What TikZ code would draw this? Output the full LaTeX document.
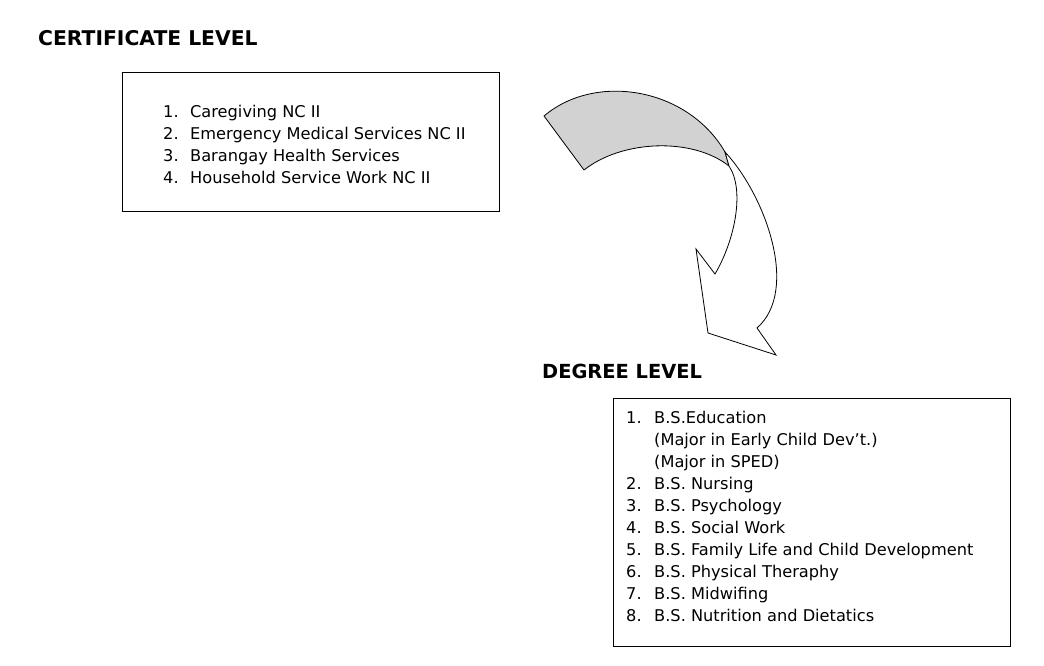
\documentclass[tikz,border=0pt]{standalone}
\usepackage{fontspec}
\setmainfont{DejaVu Sans}
\definecolor{bandgray}{RGB}{210,210,210}
\begin{document}
\begin{tikzpicture}[x=1pt,y=-1pt,
  heading/.style={font=\fontsize{20.3}{24}\selectfont\bfseries, anchor=base west, inner sep=0},
  item/.style={font=\fontsize{16.2}{20}\selectfont, anchor=base west, inner sep=0},
  listbox/.style={draw, line width=0.9pt, inner sep=0, anchor=north west},
  band/.style={draw, line width=0.8pt, fill=bandgray, line join=round},
  arrowbody/.style={draw, line width=0.8pt, fill=white, line join=miter}]
\useasboundingbox (0,0) rectangle (1044,665);

% headings
\node[heading] (certhead) at (38,45) {CERTIFICATE LEVEL};
\node[heading, font=\fontsize{19.4}{24}\selectfont\bfseries] (deghead) at (542,378) {DEGREE LEVEL};

% certificate box
\node[listbox, minimum width=377pt, minimum height=139pt] (certbox) at (122,71.5) {};
\node[item] (c1) at (163,117) {\makebox[27pt][l]{1.}Caregiving NC II};
\node[item] (c2) at (163,139.3) {\makebox[27pt][l]{2.}Emergency Medical Services NC II};
\node[item] (c3) at (163,161.5) {\makebox[27pt][l]{3.}Barangay Health Services};
\node[item] (c4) at (163,183.8) {\makebox[27pt][l]{4.}Household Service Work NC II};

% degree box
\node[listbox, minimum width=397pt, minimum height=248pt] (degbox) at (613,398) {};
\node[item] (d1) at (626,423) {\makebox[28pt][l]{1.}B.S.Education};
\node[item] (d1a) at (654,445) {(Major in Early Child Dev’t.)};
\node[item] (d1b) at (654,467) {(Major in SPED)};
\node[item] (d2) at (626,489) {\makebox[28pt][l]{2.}B.S. Nursing};
\node[item] (d3) at (626,511) {\makebox[28pt][l]{3.}B.S. Psychology};
\node[item] (d4) at (626,533) {\makebox[28pt][l]{4.}B.S. Social Work};
\node[item] (d5) at (626,555) {\makebox[28pt][l]{5.}B.S. Family Life and Child Development};
\node[item] (d6) at (626,577) {\makebox[28pt][l]{6.}B.S. Physical Theraphy};
\node[item] (d7) at (626,599) {\makebox[28pt][l]{7.}B.S. Midwifing};
\node[item] (d8) at (626,621) {\makebox[28pt][l]{8.}B.S. Nutrition and Dietatics};

% curved arrow: shaded tail band
\draw[band] (544,116) .. controls (596,72) and (688,88) .. (725,152)
  -- (729,166) .. controls (692,137) and (622,140) .. (584,170) -- cycle;
% curved arrow: white body and head
\draw[arrowbody] (725,152) .. controls (765,195) and (800,290) .. (757,328)
  -- (776,355) -- (708,333) -- (696,249) -- (715,274)
  .. controls (735,240) and (745,190) .. (729,166) -- cycle;
\end{tikzpicture}
\end{document}
